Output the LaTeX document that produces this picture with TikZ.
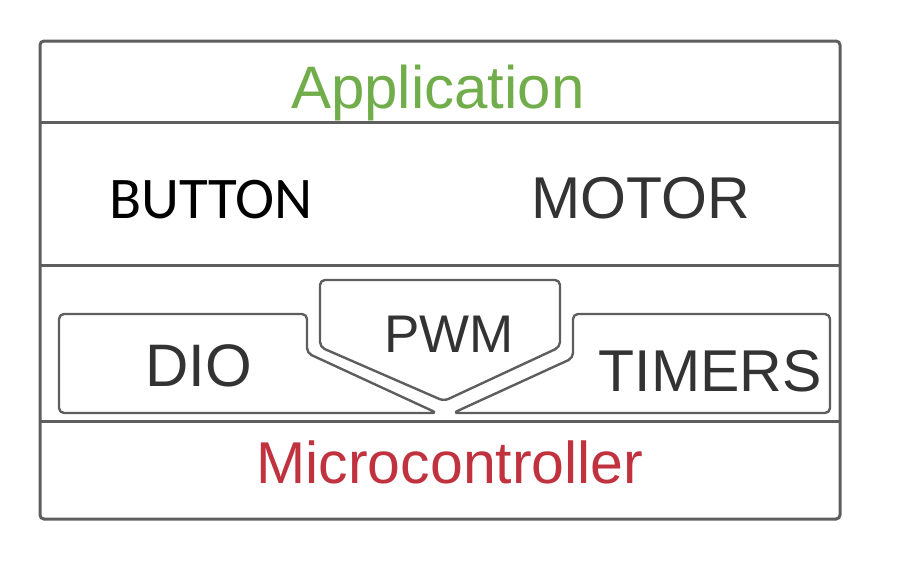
\documentclass[tikz,border=0pt]{standalone}
\usepackage{fontspec}
\setmainfont{Liberation Sans}
\newfontfamily\buttonfont{Carlito}
\usetikzlibrary{positioning}
\definecolor{framegray}{HTML}{5E5E5E}
\definecolor{textgray}{HTML}{333333}
\definecolor{appgreen}{HTML}{72AD4C}
\definecolor{mcured}{HTML}{C0323E}

\begin{document}
\begin{tikzpicture}[
    x=1pt, y=-1pt,
    frame/.style={draw=framegray, line width=3pt, rounded corners=4pt},
    layerline/.style={draw=framegray, line width=3pt},
    block/.style={draw=framegray, line width=2.4pt, rounded corners=5pt, line join=round},
    layertext/.style={anchor=base, inner sep=0pt, font=\fontsize{59}{61}\selectfont, text=textgray}
]
\useasboundingbox (0,0) rectangle (900,560);

% layers
\draw[frame] (40,41) rectangle (840,519);
\draw[layerline] (40,122) -- (840,122);
\draw[layerline] (40,265) -- (840,265);
\draw[layerline] (40,421) -- (840,421);

% driver blocks
\draw[block] (59,314) -- (307,314) -- (307,353) -- (437,413) -- (59,413) -- cycle;
\draw[block] (320,280) -- (560,280) -- (560,347) -- (444,401) -- (320,347) -- cycle;
\draw[block] (573,314) -- (830,314) -- (830,413) -- (453,413) -- (573,358) -- cycle;

\node[layertext, text=appgreen, font=\fontsize{60}{62}\selectfont] (app) at (438,108) {Application};
\node[layertext, text=black, font=\buttonfont\fontsize{59}{61}\selectfont] (button) at (211,218) {BUTTON};
\node[layertext] (motor) at (641,218) {MOTOR};
\node[layertext, font=\fontsize{60}{62}\selectfont] (dio) at (199,386) {DIO};
\node[layertext, font=\fontsize{53}{55}\selectfont] (pwm) at (449,352) {PWM};
\node[layertext] (timers) at (710,391) {TIMERS};
\node[layertext, text=mcured, font=\fontsize{59}{61}\selectfont] (mcu) at (450,483) {Microcontroller};

\end{tikzpicture}
\end{document}
